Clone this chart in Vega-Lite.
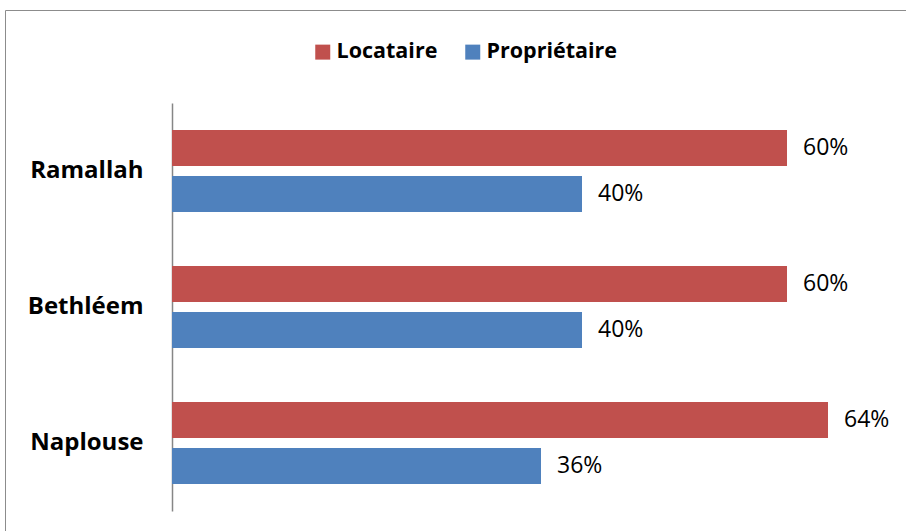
{
  "$schema": "https://vega.github.io/schema/vega-lite/v6.json",
  "width": 920,
  "height": 540,
  "autosize": {"type": "none"},
  "padding": {"left": 5, "top": 10, "right": -19, "bottom": -19},
  "background": "white",
  "config": {
    "view": {"stroke": "#8c8c8c", "strokeWidth": 1},
    "font": "Open Sans"
  },
  "data": {
    "values": [
      {"city": "Ramallah", "type": "Locataire", "value": 0.60},
      {"city": "Ramallah", "type": "Propriétaire", "value": 0.40},
      {"city": "Bethléem", "type": "Locataire", "value": 0.60},
      {"city": "Bethléem", "type": "Propriétaire", "value": 0.40},
      {"city": "Naplouse", "type": "Locataire", "value": 0.64},
      {"city": "Naplouse", "type": "Propriétaire", "value": 0.36}
    ]
  },
  "encoding": {
    "y": {
      "field": "city",
      "type": "nominal",
      "sort": ["Ramallah", "Bethléem", "Naplouse"],
      "scale": {"range": [93, 501], "paddingInner": 0, "paddingOuter": 0},
      "axis": {
        "title": null,
        "orient": "left",
        "offset": -167,
        "domain": true,
        "domainColor": "#868686",
        "domainWidth": 1.5,
        "ticks": false,
        "grid": false,
        "labelFont": "Open Sans",
        "labelFontWeight": "bold",
        "labelFontSize": 24,
        "labelColor": "#000000",
        "labelPadding": 29
      }
    },
    "yOffset": {
      "field": "type",
      "type": "nominal",
      "sort": ["Locataire", "Propriétaire"],
      "scale": {"paddingInner": 0.217, "paddingOuter": 0.587}
    },
    "x": {
      "field": "value",
      "type": "quantitative",
      "scale": {"domain": [-0.16293, 0.73463], "nice": false, "zero": false},
      "axis": null
    }
  },
  "layer": [
    {
      "mark": {"type": "bar"},
      "encoding": {
        "x2": {"datum": 0},
        "color": {
          "field": "type",
          "type": "nominal",
          "sort": ["Locataire", "Propriétaire"],
          "scale": {"domain": ["Locataire", "Propriétaire"], "range": ["#C0504D", "#4F81BD"]},
          "legend": {
            "title": null,
            "orient": "none",
            "legendX": 307,
            "legendY": 31,
            "direction": "horizontal",
            "symbolType": "square",
            "symbolSize": 225,
            "symbolStrokeWidth": 0,
            "labelFont": "Open Sans",
            "labelFontWeight": "bold",
            "labelFontSize": 21.5,
            "labelColor": "#000000",
            "labelOffset": 3,
            "columnPadding": 24,
            "padding": 0
          }
        }
      }
    },
    {
      "mark": {"type": "text", "align": "left", "baseline": "middle", "dx": 16, "font": "Open Sans", "fontSize": 23, "color": "#000000"},
      "encoding": {
        "text": {"field": "value", "type": "quantitative", "format": ".0%"}
      }
    }
  ]
}
